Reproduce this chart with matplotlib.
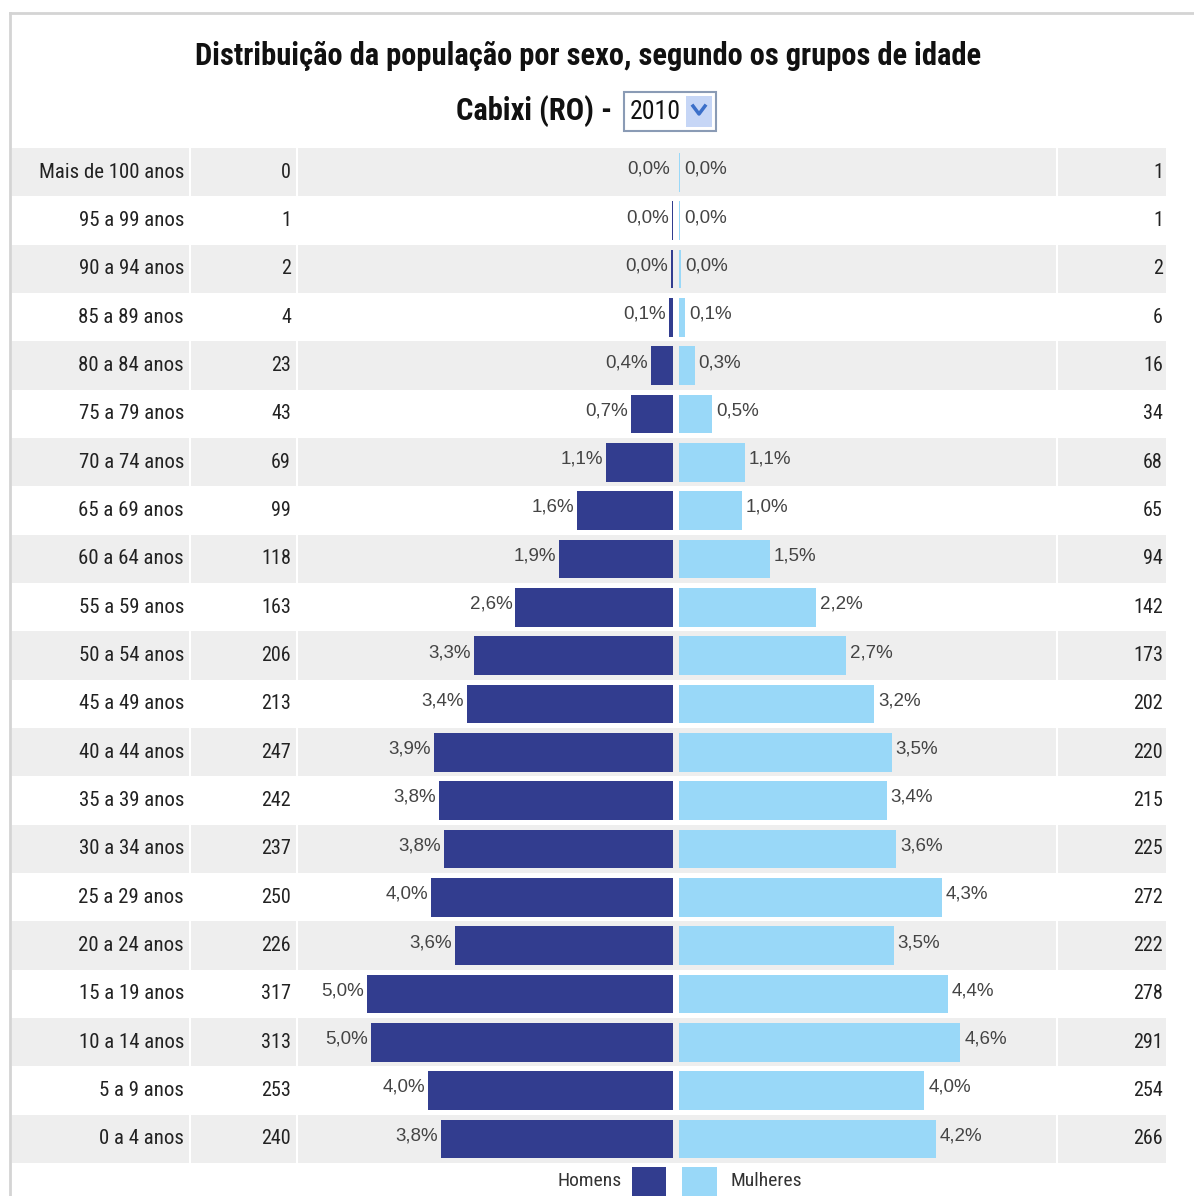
import matplotlib.pyplot as plt
from matplotlib.patches import Rectangle
from matplotlib import font_manager

# Data
grupos = ["Mais de 100 anos", "95 a 99 anos", "90 a 94 anos", "85 a 89 anos",
          "80 a 84 anos", "75 a 79 anos", "70 a 74 anos", "65 a 69 anos",
          "60 a 64 anos", "55 a 59 anos", "50 a 54 anos", "45 a 49 anos",
          "40 a 44 anos", "35 a 39 anos", "30 a 34 anos", "25 a 29 anos",
          "20 a 24 anos", "15 a 19 anos", "10 a 14 anos", "5 a 9 anos", "0 a 4 anos"]
homens = [0, 1, 2, 4, 23, 43, 69, 99, 118, 163, 206, 213, 247, 242, 237, 250, 226, 317, 313, 253, 240]
mulheres = [1, 1, 2, 6, 16, 34, 68, 65, 94, 142, 173, 202, 220, 215, 225, 272, 222, 278, 291, 254, 266]

total = sum(homens) + sum(mulheres)
pct_h = [100.0 * v / total for v in homens]
pct_m = [100.0 * v / total for v in mulheres]

def fmt(p):
    return ("%.1f%%" % p).replace(".", ",")

# look for a narrow font, the original looks like Arial Narrow
names = set(f.name for f in font_manager.fontManager.ttflist)
fam = "Liberation Sans"
for nm in ["Liberation Sans Narrow", "Roboto Condensed", "Open Sans Condensed"]:
    if nm in names:
        fam = nm
        break
plt.rcParams["font.family"] = [fam, "Liberation Sans", "DejaVu Sans"]
WIDE = ["Liberation Sans", "DejaVu Sans"]

W, H = 1194, 1196
fig = plt.figure(figsize=(W / 100, H / 100), dpi=100)
fig.patch.set_facecolor("white")

def px(x0, y0, x1, y1):
    # pixel box (top-left origin) -> figure fraction rect
    return [x0 / W, 1 - y1 / H, (x1 - x0) / W, (y1 - y0) / H]

n = len(grupos)
top, bot = 148, 1163

# table background
tab = fig.add_axes(px(12, top, 1166, bot))
tab.set_xlim(0, 1154)
tab.set_ylim(n - 0.5, -0.5)
tab.axis("off")
for i in range(n):
    if i % 2 == 0:
        tab.axhspan(i - 0.5, i + 0.5, color="#eeeeee", lw=0)
for xs in [178, 285, 1045]:
    tab.axvline(xs, color="white", lw=1.5)
for i, g in enumerate(grupos):
    tab.text(172, i, g, ha="right", va="center", fontsize=15, color="#222222")
    tab.text(279, i, str(homens[i]), ha="right", va="center", fontsize=14.5, color="#222222")
    tab.text(1151, i, str(mulheres[i]), ha="right", va="center", fontsize=14.5, color="#222222")

# pyramid bars
ax = fig.add_axes(px(297, top, 1057, bot))
ax.patch.set_alpha(0)
ax.set_xlim(-6.213, 6.246)
ax.set_ylim(n - 0.5, -0.5)
ax.axis("off")
gap = 0.05
y = list(range(n))
ax.barh(y, [-p for p in pct_h], left=-gap, height=0.8, color="#323d8f", lw=0)
ax.barh(y, pct_m, left=gap, height=0.8, color="#99d8f8", lw=0)
for i in range(n):
    ax.annotate(fmt(pct_h[i]), (-gap - pct_h[i], i), xytext=(-3, 3), textcoords="offset pixels",
                ha="right", va="center", fontsize=13.5, color="#444444", family=WIDE)
    ax.annotate(fmt(pct_m[i]), (gap + pct_m[i], i), xytext=(4, 3), textcoords="offset pixels",
                ha="left", va="center", fontsize=13.5, color="#444444", family=WIDE)

# frame lines
fig.add_artist(plt.Line2D([10 / W, 1], [1 - 13 / H, 1 - 13 / H], color="#d4d4d4", lw=2))
fig.add_artist(plt.Line2D([10 / W, 10 / W], [0, 1 - 13 / H], color="#d4d4d4", lw=2))

# titles
fig.text(588 / W, 1 - 56 / H, "Distribuição da população por sexo, segundo os grupos de idade",
         ha="center", va="center", fontsize=22, fontweight="bold", color="#111111")
fig.text(619 / W, 1 - 111 / H, "Cabixi (RO) - ", ha="right", va="center",
         fontsize=22, fontweight="bold", color="#111111")

# year dropdown
fig.add_artist(Rectangle((624 / W, 1 - 131 / H), 92 / W, 39 / H, transform=fig.transFigure,
                         facecolor="white", edgecolor="#8a9bb5", lw=1.5))
fig.add_artist(Rectangle((686 / W, 1 - 127 / H), 26 / W, 31 / H, transform=fig.transFigure,
                         facecolor="#c6d6f6", edgecolor="none"))
fig.text(630 / W, 1 - 112 / H, "2010", ha="left", va="center", fontsize=18.5, color="#111111")
fig.add_artist(plt.Line2D([693 / W, 699 / W, 705 / W], [1 - 106 / H, 1 - 114 / H, 1 - 106 / H],
                          color="#3b6fc9", lw=2.5))

# legend
fig.text(622 / W, 1 - 1181 / H, "Homens", ha="right", va="center", fontsize=14, color="#333333")
fig.add_artist(Rectangle((632 / W, 0), 34 / W, 29 / H, transform=fig.transFigure,
                         facecolor="#323d8f", edgecolor="none"))
fig.add_artist(Rectangle((682 / W, 0), 35 / W, 29 / H, transform=fig.transFigure,
                         facecolor="#99d8f8", edgecolor="none"))
fig.text(731 / W, 1 - 1181 / H, "Mulheres", ha="left", va="center", fontsize=14, color="#333333")

plt.savefig("out.png", dpi=100)
